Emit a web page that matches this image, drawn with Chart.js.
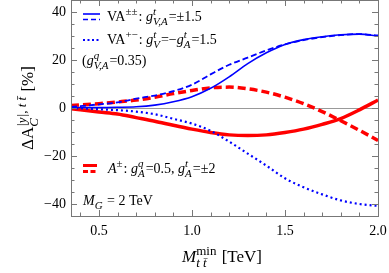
<!DOCTYPE html>
<html>
<head>
<meta charset="utf-8">
<script src="https://cdn.jsdelivr.net/npm/chart.js@4/dist/chart.umd.min.js"></script>
<style>
html,body{margin:0;padding:0;background:#fff;}
canvas{display:block;}
</style>
</head>
<body>
<canvas id="chart" width="389" height="273"></canvas>
<script>
// lower cut on M_tt (TeV)
const mttMin = [0.35, 0.5, 0.6, 0.7, 0.8, 0.9, 1.0, 1.1, 1.2, 1.3, 1.4, 1.5, 1.6, 1.7, 1.8, 1.9, 2.0];
// Delta A_C in %
const vaPlusPlus   = [0.2, 0.2, 0.3, 0.5, 1.2, 2.6, 4.7, 8.2, 13, 18.5, 23, 26.5, 28.5, 29.7, 30.5, 30.8, 30.0];
const vaMinusMinus = [0.5, 1.5, 2.3, 3.9, 5.2, 7.0, 9.7, 14, 18, 21, 24, 26.5, 28.3, 29.5, 30.4, 30.8, 30.2];
const vaPlusMinus  = [0, -0.5, -0.9, -1.5, -2.6, -4.5, -6.5, -9.5, -14, -19, -24, -29.3, -33, -36, -38.5, -40, -40.8];
const axPlus       = [-0.3, -1.7, -2.5, -4.0, -5.5, -7.2, -8.8, -10.2, -11.2, -11.5, -11.2, -10.2, -8.8, -6.8, -4.4, -0.8, 3.3];
const axMinus      = [1.0, 1.8, 2.5, 3.3, 4.5, 6.0, 7.3, 8.4, 8.7, 8.0, 6.6, 4.5, 1.8, -1.5, -5.3, -9.3, -13.5];

const xTicks = [0.5, 1.0, 1.5, 2.0];
const yTicks = [-40, -20, 0, 20, 40];

const BLUE = '#0000ff', RED = '#ff0000';
const serif = '"Liberation Serif", "DejaVu Serif", serif';

function pts(arr){
    return mttMin.map((m,i) => ({x:m, y:arr[i]}));
}

// draws text with sub/superscripts, returns end x
function drawRich(ctx, x, y, segs, size, measureOnly){
    const small = Math.round(size*0.76);
    segs.forEach(s => {
        if (s.t !== undefined) {
            ctx.font = (s.it ? 'italic ' : '') + size + 'px ' + serif;
            if (!measureOnly) ctx.fillText(s.t, x, y);
            x += ctx.measureText(s.t).width;
        } else {
            let w = 0;
            if (s.sup) {
                ctx.font = (s.supIt ? 'italic ' : '') + small + 'px ' + serif;
                if (!measureOnly) ctx.fillText(s.sup, x, y - size*0.42);
                w = ctx.measureText(s.sup).width;
            }
            if (s.sub) {
                ctx.font = (s.subIt ? 'italic ' : '') + small + 'px ' + serif;
                if (!measureOnly) ctx.fillText(s.sub, x, y + size*0.3);
                w = Math.max(w, ctx.measureText(s.sub).width);
            }
            x += w + 1;
        }
    });
    return x;
}

function sample(ctx, x1, x2, y, color, width, dash){
    ctx.save();
    ctx.strokeStyle = color;
    ctx.lineWidth = width;
    ctx.setLineDash(dash || []);
    ctx.beginPath();
    ctx.moveTo(x1, y);
    ctx.lineTo(x2, y);
    ctx.stroke();
    ctx.restore();
}

const frameTicks = {
    id: 'frameTicks',
    beforeDatasetsDraw(chart){
        const {ctx, chartArea: a, scales: {y}} = chart;
        const y0 = Math.round(y.getPixelForValue(0)) + 0.5;
        ctx.save();
        ctx.strokeStyle = '#999';
        ctx.lineWidth = 1;
        ctx.beginPath();
        ctx.moveTo(a.left, y0);
        ctx.lineTo(a.right, y0);
        ctx.stroke();
        ctx.restore();
    },
    afterDatasetsDraw(chart){
        const {ctx, chartArea: a, scales: {x, y}} = chart;
        ctx.save();
        ctx.strokeStyle = '#777';
        ctx.lineWidth = 1;
        ctx.strokeRect(Math.round(a.left)+0.5, Math.round(a.top)+0.5, Math.round(a.right-a.left), Math.round(a.bottom-a.top));

        ctx.beginPath();
        // x ticks every 0.1, bottom and top
        for (let k = 4; k <= 20; k++) {
            const v = k/10;
            const px = Math.round(x.getPixelForValue(v)) + 0.5;
            const len = (k % 5 === 0) ? 6 : 3.5;
            ctx.moveTo(px, a.bottom); ctx.lineTo(px, a.bottom - len);
            ctx.moveTo(px, a.top); ctx.lineTo(px, a.top + len);
        }
        // y ticks every 5, left and right
        for (let v = -45; v <= 45; v += 5) {
            const py = Math.round(y.getPixelForValue(v)) + 0.5;
            const len = (v % 20 === 0) ? 6 : 3.5;
            ctx.moveTo(a.left, py); ctx.lineTo(a.left + len, py);
            ctx.moveTo(a.right, py); ctx.lineTo(a.right - len, py);
        }
        ctx.stroke();
        ctx.restore();

        // legend notes
        ctx.save();
        ctx.fillStyle = '#000';
        ctx.textBaseline = 'alphabetic';
        sample(ctx, 83, 100, 14, BLUE, 1.6);
        sample(ctx, 83, 100, 19.5, BLUE, 1.6, [5, 3]);
        drawRich(ctx, 107, 21, [
            {t:'VA'}, {sup:'\u00b1\u00b1'}, {t:': '}, {t:'g', it:true},
            {sup:'t', supIt:true, sub:'V,A', subIt:true}, {t:'=\u00b11.5'}
        ], 14);

        sample(ctx, 83, 100, 40, BLUE, 2, [2, 2.5]);
        drawRich(ctx, 107, 44, [
            {t:'VA'}, {sup:'+\u2212'}, {t:': '}, {t:'g', it:true},
            {sup:'t', supIt:true, sub:'V', subIt:true}, {t:'=\u2212'}, {t:'g', it:true},
            {sup:'t', supIt:true, sub:'A', subIt:true}, {t:'=1.5'}
        ], 14);

        drawRich(ctx, 82, 65, [
            {t:'('}, {t:'g', it:true}, {sup:'q', supIt:true, sub:'V,A', subIt:true}, {t:'=0.35)'}
        ], 14);

        sample(ctx, 83, 97, 165.5, RED, 3);
        sample(ctx, 83, 97, 171.5, RED, 3, [5, 2.5]);
        drawRich(ctx, 108, 173, [
            {t:'A', it:true}, {sup:'\u00b1'}, {t:': '}, {t:'g', it:true},
            {sup:'q', supIt:true, sub:'A', subIt:true}, {t:'=0.5, '}, {t:'g', it:true},
            {sup:'t', supIt:true, sub:'A', subIt:true}, {t:'=\u00b12'}
        ], 14);

        drawRich(ctx, 83, 205, [
            {t:'M', it:true}, {sub:'G', subIt:true}, {t:' = 2 TeV'}
        ], 14);

        // axis titles
        drawRich(ctx, 182, 262, [
            {t:'M', it:true}, {sup:'min', sub:'t t\u0304', subIt:true}, {t:' [TeV]'}
        ], 17);

        const ySegs = [
            {t:'\u0394A'}, {sup:'|y|, t t\u0304', supIt:true, sub:'C', subIt:true}, {t:' [%]'}
        ];
        const w = drawRich(ctx, 0, 0, ySegs, 17, true);
        ctx.translate(33, 108);
        ctx.rotate(-Math.PI/2);
        drawRich(ctx, -w/2, 0, ySegs, 17);
        ctx.restore();
    }
};

const ctx = document.getElementById('chart').getContext('2d');
const myChart = new Chart(ctx, {
    type: 'line',
    data: {
        datasets: [
            {label:'VA++', data: pts(vaPlusPlus), borderColor: BLUE, borderWidth: 1.6},
            {label:'VA--', data: pts(vaMinusMinus), borderColor: BLUE, borderWidth: 1.8, borderDash: [6, 3]},
            {label:'VA+-', data: pts(vaPlusMinus), borderColor: BLUE, borderWidth: 2.2, borderDash: [2, 3]},
            {label:'A+', data: pts(axPlus), borderColor: RED, borderWidth: 3.5},
            {label:'A-', data: pts(axMinus), borderColor: RED, borderWidth: 3.5, borderDash: [8, 4]}
        ]
    },
    options: {
        responsive: false,
        animation: false,
        events: [],
        layout: {padding: {top: 0, right: 11, left: 0, bottom: 0}},
        elements: {
            point: {radius: 0},
            line: {cubicInterpolationMode: 'monotone', fill: false}
        },
        plugins: {legend: {display: false}, tooltip: {enabled: false}},
        scales: {
            x: {
                type: 'linear', min: 0.35, max: 2.0,
                afterBuildTicks: s => { s.ticks = xTicks.map(v => ({value: v})); },
                afterFit: s => { s.height = 57; s.paddingLeft = 0; s.paddingRight = 0; },
                grid: {display: false, drawTicks: false},
                border: {display: false},
                ticks: {
                    padding: 7, color: '#000', maxRotation: 0,
                    font: {family: serif, size: 14},
                    callback: v => v.toFixed(1)
                }
            },
            y: {
                type: 'linear', min: -45, max: 45,
                afterBuildTicks: s => { s.ticks = yTicks.map(v => ({value: v})); },
                afterFit: s => { s.width = 71; s.paddingTop = 0; s.paddingBottom = 0; },
                grid: {display: false, drawTicks: false},
                border: {display: false},
                ticks: {
                    padding: 5, color: '#000',
                    font: {family: serif, size: 14},
                    callback: v => (v < 0 ? '\u2212' + Math.abs(v) : String(v))
                }
            }
        }
    },
    plugins: [frameTicks]
});
</script>
</body>
</html>
